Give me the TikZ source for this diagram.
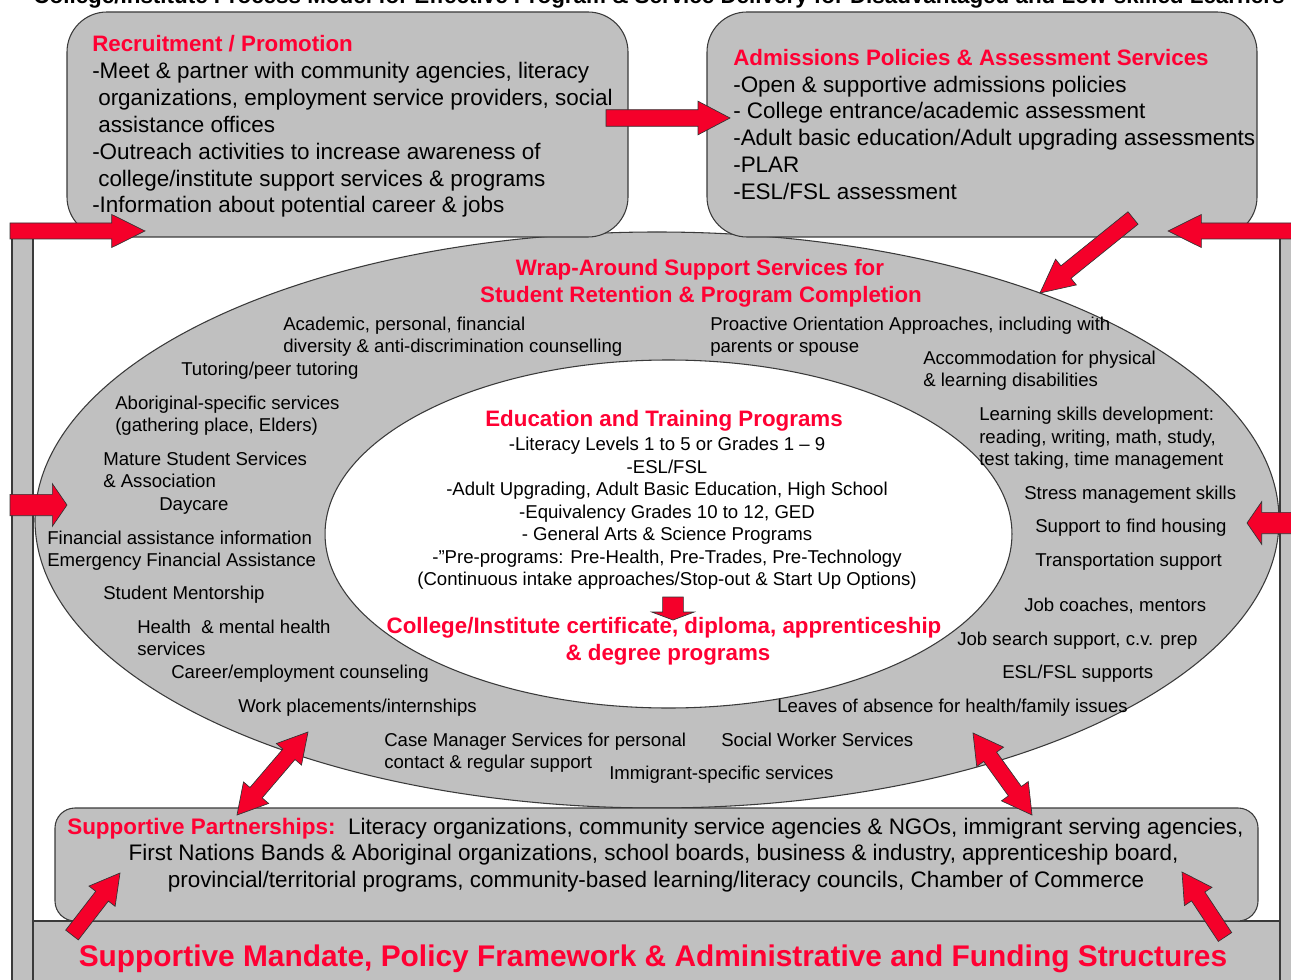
\documentclass[tikz,border=0pt]{standalone}
\usepackage{fontspec}
\setmainfont{Liberation Sans}
\usetikzlibrary{calc}

\definecolor{panelgray}{HTML}{C0C0C0}
\definecolor{headred}{HTML}{FF0033}
\definecolor{arrowred}{HTML}{F5002A}
\definecolor{edgegray}{HTML}{3A3A3A}

% block arrow: tail, tip, shaft half width, head half width, head length
\newcommand{\blockarrow}[5]{%
  \coordinate (ah) at ($(#2)!#5!(#1)$);
  \filldraw[arrowfill] ($(#1)!#3!90:(#2)$) -- ($(ah)!#3!-90:(#1)$) -- ($(ah)!#4!-90:(#1)$)
    -- (#2) -- ($(ah)!#4!90:(#1)$) -- ($(ah)!#3!90:(#1)$) -- ($(#1)!#3!-90:(#2)$) -- cycle;
}
% two-headed block arrow between two points
\newcommand{\twowayarrow}[5]{%
  \coordinate (ha) at ($(#2)!#5!(#1)$);
  \coordinate (hb) at ($(#1)!#5!(#2)$);
  \filldraw[arrowfill] (#1) -- ($(hb)!#4!90:(#2)$) -- ($(hb)!#3!90:(#2)$)
    -- ($(ha)!#3!-90:(#1)$) -- ($(ha)!#4!-90:(#1)$) -- (#2)
    -- ($(ha)!#4!90:(#1)$) -- ($(ha)!#3!90:(#1)$)
    -- ($(hb)!#3!-90:(#2)$) -- ($(hb)!#4!-90:(#2)$) -- cycle;
}

\tikzset{
  panel/.style={draw=edgegray, line width=0.8pt, fill=panelgray},
  arrowfill/.style={fill=arrowred, draw=black!80, line width=0.5pt, line join=miter},
  bigtxt/.style={font=\fontsize{16.85}{20}\selectfont, inner sep=0pt, anchor=base west},
  smalltxt/.style={font=\fontsize{13.95}{16}\selectfont, inner sep=0pt, anchor=base west},
  midtxt/.style={font=\fontsize{13.95}{16}\selectfont, inner sep=0pt, anchor=base},
  redhead/.style={font=\bfseries\fontsize{16.75}{20}\selectfont, text=headred, inner sep=0pt},
}

\begin{document}
\begin{tikzpicture}[x=0.75pt, y=-0.75pt]
\useasboundingbox (0,0) rectangle (1291,980);

% title line at the top edge
\node[font=\bfseries\fontsize{16.8}{20}\selectfont, inner sep=0pt, anchor=base] (title) at (659,4)
  {College/Institute Process Model for Effective Program \& Service Delivery for Disadvantaged and Low-skilled Learners};

% outer frame: side bars and base band
\draw[panel] (12,226) rectangle (33,995);
\draw[panel] (1280,226) rectangle (1300,995);
\draw[panel] (33,921) rectangle (1280,995);

% wrap-around ellipse and inner programme ellipse
\draw[panel] (657,520) ellipse [x radius=466.5pt, y radius=216pt];
\draw[draw=edgegray, line width=0.8pt, fill=white] (668.5,534) ellipse [x radius=257.6pt, y radius=130.5pt];

% top panels
\draw[panel, rounded corners=30pt] (67,12) rectangle (628,237);
\draw[panel, rounded corners=30pt] (707,12) rectangle (1257,237);

% partnerships panel
\draw[panel, rounded corners=15pt] (55,808) rectangle (1258,921);

% recruitment panel text
\node[redhead, anchor=base west] (recH) at (92,52) {Recruitment / Promotion};
\node[bigtxt] (rec1) at (92,79) {-Meet \& partner with community agencies, literacy};
\node[bigtxt] (rec2) at (98,106) {organizations, employment service providers, social};
\node[bigtxt] (rec3) at (98,133) {assistance offices};
\node[bigtxt] (rec4) at (92,160) {-Outreach activities to increase awareness of};
\node[bigtxt] (rec5) at (98,187) {college/institute support services \& programs};
\node[bigtxt] (rec6) at (92,213) {-Information about potential career \& jobs};

% admissions panel text
\node[redhead, anchor=base west] (admH) at (733,66) {Admissions Policies \& Assessment Services};
\node[bigtxt] (adm1) at (733,93) {-Open \& supportive admissions policies};
\node[bigtxt] (adm2) at (733,119) {- College entrance/academic assessment};
\node[bigtxt] (adm3) at (733,146) {-Adult basic education/Adult upgrading assessments};
\node[bigtxt] (adm4) at (733,173) {-PLAR};
\node[bigtxt] (adm5) at (733,200) {-ESL/FSL assessment};

% wrap-around services
\node[redhead, anchor=base] (wrapH1) at (700,276) {Wrap-Around Support Services for};
\node[redhead, anchor=base] (wrapH2) at (701,303) {Student Retention \& Program Completion};

\node[smalltxt] (s1) at (283,330) {Academic, personal, financial};
\node[smalltxt] (s2) at (283,353) {diversity \& anti-discrimination counselling};
\node[smalltxt] (s3) at (181,375) {Tutoring/peer tutoring};
\node[smalltxt] (s4) at (115,409) {Aboriginal-specific services};
\node[smalltxt] (s5) at (115,431) {(gathering place, Elders)};
\node[smalltxt] (s6) at (103,465) {Mature Student Services};
\node[smalltxt] (s7) at (103,487) {\& Association};
\node[smalltxt] (s8) at (159,510) {Daycare};
\node[smalltxt] (s9) at (47,544) {Financial assistance information};
\node[smalltxt] (s10) at (47,566) {Emergency Financial Assistance};
\node[smalltxt] (s11) at (103,599) {Student Mentorship};
\node[smalltxt] (s12) at (137,633) {Health \ \& mental health};
\node[smalltxt] (s13) at (137,655) {services};
\node[smalltxt] (s14) at (171,678) {Career/employment counseling};
\node[smalltxt] (s15) at (238,712) {Work placements/internships};
\node[smalltxt] (s16) at (384,746) {Case Manager Services for personal};
\node[smalltxt] (s17) at (384,768) {contact \& regular support};
\node[smalltxt] (s18) at (609,779) {Immigrant-specific services};
\node[smalltxt] (s19) at (721,746) {Social Worker Services};
\node[smalltxt] (s20) at (777,712) {Leaves of absence for health/family issues};
\node[smalltxt] (s21) at (1002,678) {ESL/FSL supports};
\node[smalltxt] (s22) at (957,645) {Job search support, c.v. prep};
\node[smalltxt] (s23) at (1024,611) {Job coaches, mentors};
\node[smalltxt] (s24) at (1035,566) {Transportation support};
\node[smalltxt] (s25) at (1035,532) {Support to find housing};
\node[smalltxt] (s26) at (1024,499) {Stress management skills};
\node[smalltxt] (s27) at (979,420) {Learning skills development:};
\node[smalltxt] (s28) at (979,443) {reading, writing, math, study,};
\node[smalltxt] (s29) at (979,465) {test taking, time management};
\node[smalltxt] (s30) at (923,364) {Accommodation for physical};
\node[smalltxt] (s31) at (923,386) {\& learning disabilities};
\node[smalltxt] (s32) at (710,330) {Proactive Orientation Approaches, including with};
\node[smalltxt] (s33) at (710,353) {parents or spouse};

% education and training programmes
\node[redhead, anchor=base] (eduH) at (664,426) {Education and Training Programs};
\node[midtxt] (e1) at (667,450) {-Literacy Levels 1 to 5 or Grades 1 -- 9};
\node[midtxt] (e2) at (667,473) {-ESL/FSL};
\node[midtxt] (e3) at (667,495) {-Adult Upgrading, Adult Basic Education, High School};
\node[midtxt] (e4) at (667,518) {-Equivalency Grades 10 to 12, GED};
\node[midtxt] (e5) at (667,540) {- General Arts \& Science Programs};
\node[midtxt] (e6) at (667,563) {-"Pre-programs: Pre-Health, Pre-Trades, Pre-Technology};
\node[midtxt] (e7) at (667,585) {(Continuous intake approaches/Stop-out \& Start Up Options)};
\node[redhead, anchor=base] (cert1) at (664,633) {College/Institute certificate, diploma, apprenticeship};
\node[redhead, anchor=base] (cert2) at (668,660) {\& degree programs};

% partnerships text
\node[bigtxt] (p1) at (67,834) {\textcolor{headred}{\bfseries Supportive Partnerships:}\ \ Literacy organizations, community service agencies \& NGOs, immigrant serving agencies,};
\node[bigtxt, anchor=base] (p2) at (653.5,860) {First Nations Bands \& Aboriginal organizations, school boards, business \& industry, apprenticeship board,};
\node[bigtxt, anchor=base] (p3) at (656,887) {provincial/territorial programs, community-based learning/literacy councils, Chamber of Commerce};

% base band text
\node[font=\bfseries\fontsize{22.4}{26}\selectfont, text=headred, inner sep=0pt, anchor=base] (mandate) at (653,966)
  {Supportive Mandate, Policy Framework \& Administrative and Funding Structures};

% arrow end points
\coordinate (leftTopTail) at (10,231);   \coordinate (leftTopTip) at (145,231);
\coordinate (recOut) at (606,118);       \coordinate (admIn) at (730,118);
\coordinate (rightTopTail) at (1300,231); \coordinate (rightTopTip) at (1168,231);
\coordinate (admOut) at (1133,218);      \coordinate (wrapIn) at (1040,293);
\coordinate (leftMidTail) at (10,505);   \coordinate (leftMidTip) at (67,505);
\coordinate (rightMidTail) at (1300,523); \coordinate (rightMidTip) at (1247,523);
\coordinate (eduOut) at (673,597);       \coordinate (certIn) at (673,620);
\coordinate (partL) at (237,815);        \coordinate (wrapL) at (308,732);
\coordinate (wrapR) at (973,733);        \coordinate (partR) at (1032,815);
\coordinate (baseLTail) at (72,935);     \coordinate (baseLTip) at (120,873);
\coordinate (baseRTail) at (1225,937);   \coordinate (baseRTip) at (1182,872);

\blockarrow{leftTopTail}{leftTopTip}{6pt}{12.4pt}{25pt}
\blockarrow{recOut}{admIn}{6.2pt}{12.6pt}{24pt}
\blockarrow{rightTopTail}{rightTopTip}{6pt}{12.4pt}{25pt}
\blockarrow{admOut}{wrapIn}{6pt}{12.4pt}{25pt}
\blockarrow{leftMidTail}{leftMidTip}{8pt}{16pt}{11pt}
\blockarrow{rightMidTail}{rightMidTip}{8pt}{16pt}{11pt}
\blockarrow{eduOut}{certIn}{7.8pt}{16pt}{6pt}
\twowayarrow{partL}{wrapL}{6pt}{12.4pt}{22pt}
\twowayarrow{wrapR}{partR}{6pt}{12.4pt}{22pt}
\blockarrow{baseLTail}{baseLTip}{6pt}{12.4pt}{22pt}
\blockarrow{baseRTail}{baseRTip}{6pt}{12.4pt}{22pt}

\end{tikzpicture}
\end{document}
